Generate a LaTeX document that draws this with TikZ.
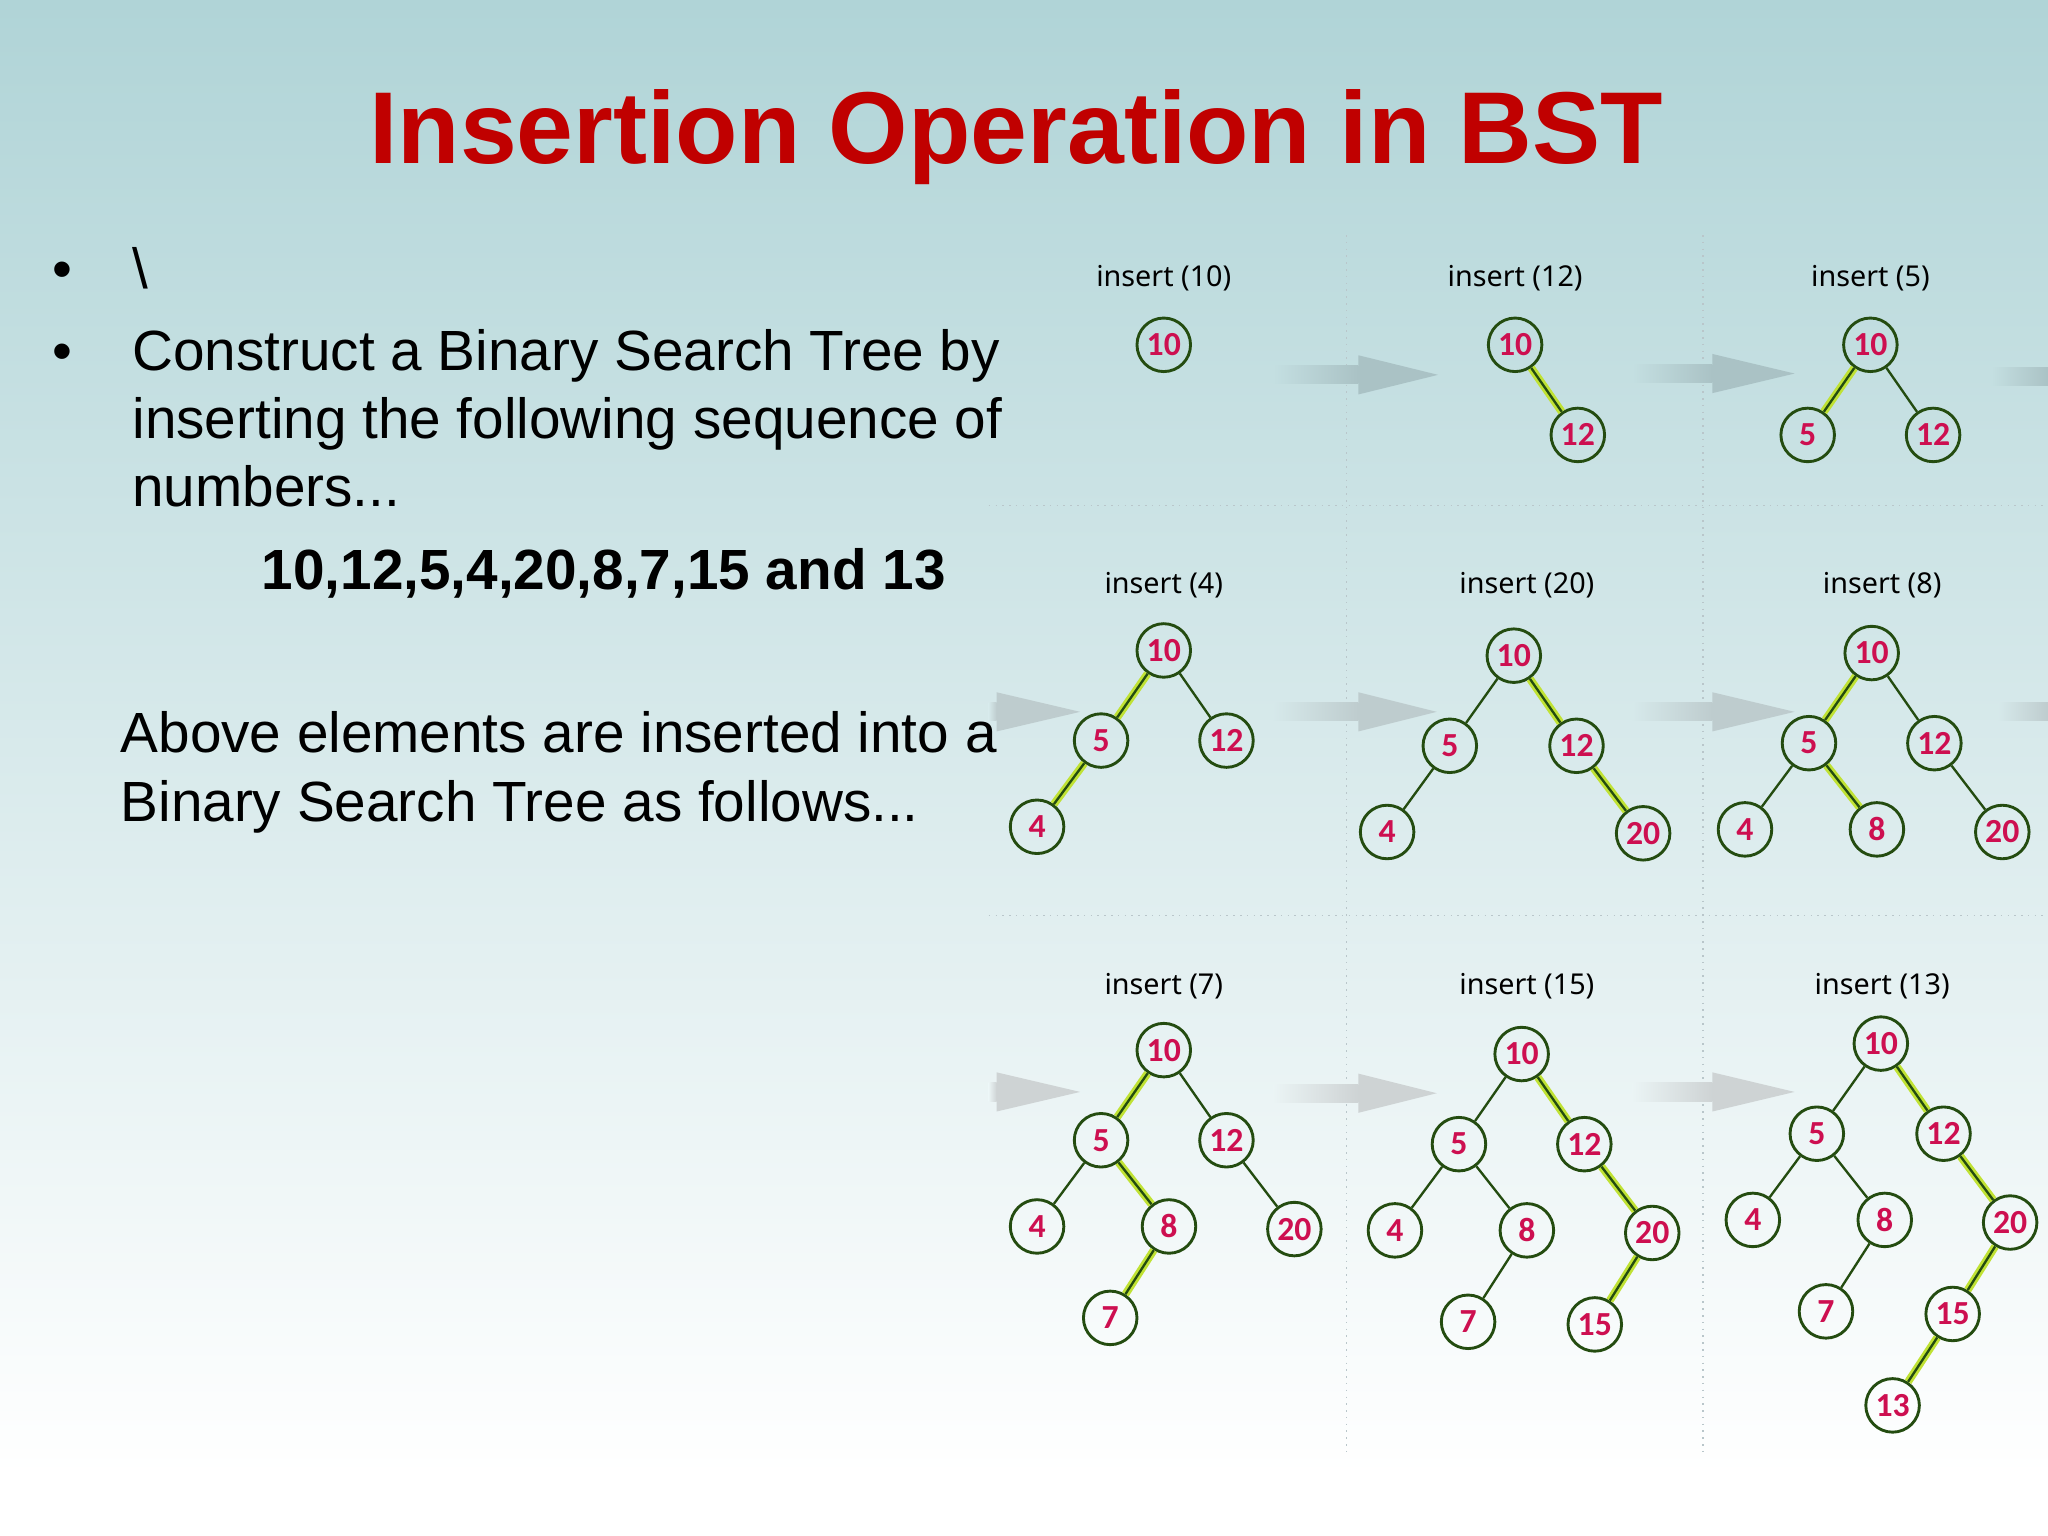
\documentclass[tikz,border=0pt]{standalone}
\usepackage{fontspec}
\setmainfont{Liberation Sans}
\newfontfamily\lblfont{Noto Sans}
\newfontfamily\numfont{Carlito}
\definecolor{bgtop}{RGB}{176,212,215}
\definecolor{titlered}{RGB}{192,0,0}
\definecolor{nodegreen}{RGB}{36,76,16}
\definecolor{numred}{RGB}{205,15,80}
\definecolor{hilite}{RGB}{192,226,52}
\definecolor{gridgray}{RGB}{185,198,202}
\definecolor{arrA}{RGB}{170,194,197}
\definecolor{arrB}{RGB}{190,204,206}
\definecolor{arrC}{RGB}{206,211,212}
\tikzset{
  bst/.style={circle, draw=nodegreen, line width=1.1pt, minimum size=20.5pt, inner sep=0pt,
    font=\numfont\bfseries\fontsize{12.9}{13}\selectfont, text=numred},
  edge/.style={draw=nodegreen, line width=0.9pt},
  hl/.style={edge, preaction={draw=hilite, line width=3pt}},
  lbl/.style={font=\lblfont\fontsize{11}{13}\selectfont, text=black},
  body/.style={anchor=base west, font=\fontsize{21.7}{26}\selectfont, inner sep=0pt},
  bul/.style={anchor=base, font=\fontsize{21.7}{26}\selectfont, inner sep=0pt},
  grid/.style={gridgray, dotted, line width=0.6pt},
}
\newcommand\grayarrow[6]{%
  \shade[left color=#5, right color=#6] (#1,#4-7) rectangle (#2,#4+7);
  \fill[#6] (#2,#4-15) -- (#3,#4) -- (#2,#4+15) -- cycle;
}
\begin{document}
\begin{tikzpicture}[x=0.5pt,y=-0.5pt]
\useasboundingbox (0,0) rectangle (1568,1176);
\shade[top color=bgtop, bottom color=white] (0,0) rectangle (1568,1130);
\fill[white] (0,1130) rectangle (1568,1176);

% grid
\draw[grid] (1031,180) -- (1031,1115);
\draw[grid] (1304,180) -- (1304,1115);
\draw[grid] (757,387) -- (1568,387);
\draw[grid] (757,701) -- (1568,701);

% arrows
\grayarrow{975}{1040}{1101}{287}{bgtop!75!white}{arrA}
\grayarrow{1250}{1311}{1374}{286}{bgtop!75!white}{arrA}
\shade[left color=bgtop!75!white, right color=arrA] (1525,281) rectangle (1568,295);
\grayarrow{757}{763}{827}{545}{bgtop!52!white}{arrB}
\grayarrow{975}{1040}{1100}{545}{bgtop!52!white}{arrB}
\grayarrow{1250}{1311}{1374}{545}{bgtop!52!white}{arrB}
\shade[left color=bgtop!52!white, right color=arrB] (1530,538) rectangle (1568,552);
\grayarrow{757}{763}{827}{836}{bgtop!26!white}{arrC}
\grayarrow{975}{1040}{1100}{837}{bgtop!26!white}{arrC}
\grayarrow{1250}{1311}{1374}{836}{bgtop!26!white}{arrC}

% title
\node[font=\bfseries\fontsize{39.1}{47}\selectfont, text=titlered, anchor=base, inner sep=0pt] (title) at (778,125) {Insertion Operation in BST};

% left text
\node[bul] (b1) at (48,221) {•};
\node[body] (t0) at (101,221) {\textbackslash};
\node[bul] (b2) at (48,284) {•};
\node[body] (t1) at (101,284) {Construct a Binary Search Tree by};
\node[body] (t2) at (101,336) {inserting the following sequence of};
\node[body] (t3) at (101,388) {numbers...};
\node[body, font=\bfseries\fontsize{21.7}{26}\selectfont] (t4) at (200,451) {10,12,5,4,20,8,7,15 and 13};
\node[body] (t5) at (92,576) {Above elements are inserted into a};
\node[body] (t6) at (92,629) {Binary Search Tree as follows...};

% tree 1
\node[lbl] (l1) at (891,213) {insert (10)};
\node[bst] (a10) at (891,264) {10};

% tree 2
\node[lbl] (l2) at (1160,213) {insert (12)};
\node[bst] (b10) at (1160,264) {10};
\node[bst] (b12) at (1208,333) {12};
\draw[hl] (b10) -- (b12);

% tree 3
\node[lbl] (l3) at (1432,213) {insert (5)};
\node[bst] (c10) at (1432,264) {10};
\node[bst] (c5) at (1384,333) {5};
\node[bst] (c12) at (1480,333) {12};
\draw[hl] (c10) -- (c5);
\draw[edge] (c10) -- (c12);

% tree 4
\node[lbl] (l4) at (891,448) {insert (4)};
\node[bst] (d10) at (891,498) {10};
\node[bst] (d5) at (843,567) {5};
\node[bst] (d12) at (939,567) {12};
\node[bst] (d4) at (794,633) {4};
\draw[hl] (d10) -- (d5);
\draw[hl] (d5) -- (d4);
\draw[edge] (d10) -- (d12);

% tree 5
\node[lbl] (l5) at (1169,448) {insert (20)};
\node[bst] (e10) at (1159,502) {10};
\node[bst] (e5) at (1110,571) {5};
\node[bst] (e12) at (1207,571) {12};
\node[bst] (e4) at (1062,637) {4};
\node[bst] (e20) at (1258,638) {20};
\draw[edge] (e10) -- (e5);
\draw[edge] (e5) -- (e4);
\draw[hl] (e10) -- (e12);
\draw[hl] (e12) -- (e20);

% tree 6
\node[lbl] (l6) at (1441,448) {insert (8)};
\node[bst] (f10) at (1433,500) {10};
\node[bst] (f5) at (1385,569) {5};
\node[bst] (f12) at (1481,569) {12};
\node[bst] (f4) at (1336,635) {4};
\node[bst] (f8) at (1437,635) {8};
\node[bst] (f20) at (1533,637) {20};
\draw[hl] (f10) -- (f5);
\draw[hl] (f5) -- (f8);
\draw[edge] (f10) -- (f12);
\draw[edge] (f5) -- (f4);
\draw[edge] (f12) -- (f20);

% tree 7
\node[lbl] (l7) at (891,755) {insert (7)};
\node[bst] (g10) at (891,804) {10};
\node[bst] (g5) at (843,873) {5};
\node[bst] (g12) at (939,873) {12};
\node[bst] (g4) at (794,939) {4};
\node[bst] (g8) at (895,939) {8};
\node[bst] (g20) at (991,941) {20};
\node[bst] (g7) at (850,1009) {7};
\draw[hl] (g10) -- (g5);
\draw[hl] (g5) -- (g8);
\draw[hl] (g8) -- (g7);
\draw[edge] (g10) -- (g12);
\draw[edge] (g5) -- (g4);
\draw[edge] (g12) -- (g20);

% tree 8
\node[lbl] (l8) at (1169,755) {insert (15)};
\node[bst] (h10) at (1165,807) {10};
\node[bst] (h5) at (1117,876) {5};
\node[bst] (h12) at (1213,876) {12};
\node[bst] (h4) at (1068,942) {4};
\node[bst] (h8) at (1169,942) {8};
\node[bst] (h20) at (1265,944) {20};
\node[bst] (h7) at (1124,1012) {7};
\node[bst] (h15) at (1221,1014) {15};
\draw[hl] (h10) -- (h12);
\draw[hl] (h12) -- (h20);
\draw[hl] (h20) -- (h15);
\draw[edge] (h10) -- (h5);
\draw[edge] (h5) -- (h4);
\draw[edge] (h5) -- (h8);
\draw[edge] (h8) -- (h7);

% tree 9
\node[lbl] (l9) at (1441,755) {insert (13)};
\node[bst] (i10) at (1440,799) {10};
\node[bst] (i5) at (1391,868) {5};
\node[bst] (i12) at (1488,868) {12};
\node[bst] (i4) at (1342,934) {4};
\node[bst] (i8) at (1443,934) {8};
\node[bst] (i20) at (1539,936) {20};
\node[bst] (i7) at (1398,1004) {7};
\node[bst] (i15) at (1495,1006) {15};
\node[bst] (i13) at (1449,1076) {13};
\draw[hl] (i10) -- (i12);
\draw[hl] (i12) -- (i20);
\draw[hl] (i20) -- (i15);
\draw[hl] (i15) -- (i13);
\draw[edge] (i10) -- (i5);
\draw[edge] (i5) -- (i4);
\draw[edge] (i5) -- (i8);
\draw[edge] (i8) -- (i7);
\end{tikzpicture}
\end{document}
